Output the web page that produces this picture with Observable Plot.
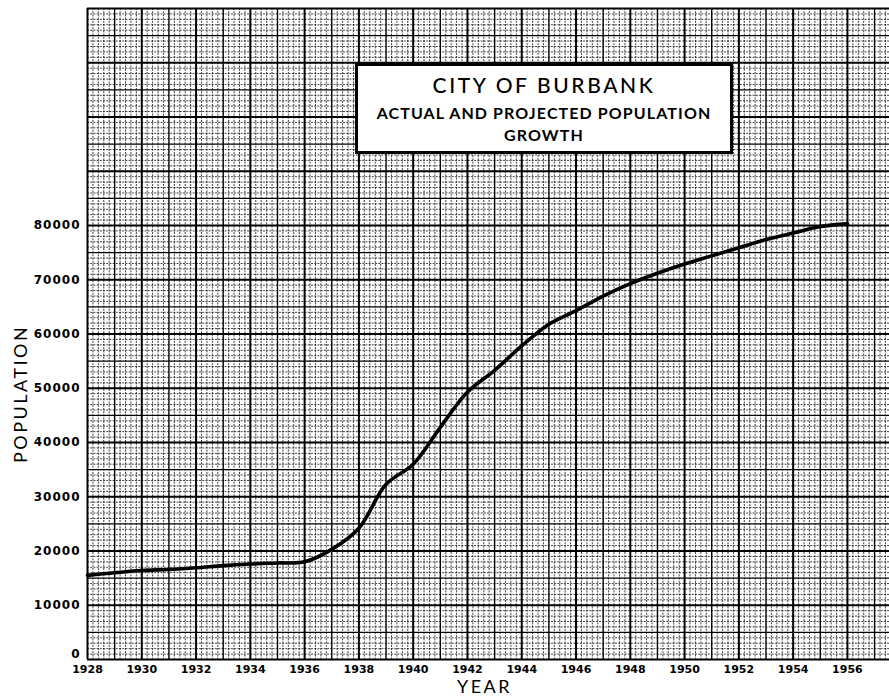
<!DOCTYPE html>
<html>
<head>
<meta charset="utf-8">
<script src="https://cdn.jsdelivr.net/npm/d3@7"></script>
<script src="https://cdn.jsdelivr.net/npm/@observablehq/plot@0.6"></script>
<style>
  html, body { margin: 0; padding: 0; background: #fff; }
  #wrap { position: relative; width: 889px; height: 699px; overflow: hidden; }
  #box {
    position: absolute; left: 355px; top: 63px; width: 372px; height: 85px;
    border: 3px solid #000; background: #fff; font-family: Lato, "DejaVu Sans", sans-serif;
    color: #000; text-align: center;
  }
  #box .l1 { position: absolute; left: 0; right: 0; top: 6px; font-size: 21px; letter-spacing: 2.6px; font-weight: 500; }
  #box .l2 { position: absolute; left: 0; right: 0; top: 37px; font-size: 16px; font-weight: 700; letter-spacing: 1.1px; }
  #box .l3 { position: absolute; left: 0; right: 0; top: 59px; font-size: 16px; font-weight: 700; letter-spacing: 1.1px; }
</style>
</head>
<body>
<div id="wrap">
  <div id="chart"></div>
  <div id="box">
    <div class="l1">CITY OF BURBANK</div>
    <div class="l2">ACTUAL AND PROJECTED POPULATION</div>
    <div class="l3">GROWTH</div>
  </div>
</div>
<script>
// ---- data ----
const years = [1928, 1929, 1930, 1931, 1932, 1933, 1934, 1935, 1936, 1937, 1938, 1939, 1940, 1941, 1942,
               1943, 1944, 1945, 1946, 1947, 1948, 1949, 1950, 1951, 1952, 1953, 1954, 1955, 1956];
const population = [15500, 16000, 16400, 16600, 16900, 17300, 17600, 17800, 18000, 20300, 24200, 32300, 36000, 42800, 49300,
                    53300, 57800, 61800, 64300, 67000, 69300, 71200, 72900, 74400, 75900, 77400, 78600, 79800, 80300];
const xTickLabels = [1928, 1930, 1932, 1934, 1936, 1938, 1940, 1942, 1944, 1946, 1948, 1950, 1952, 1954, 1956];
const yTickLabels = [10000, 20000, 30000, 40000, 50000, 60000, 70000, 80000];
const yZeroLabel = [0];
const xTitle = "YEAR";
const yTitle = "POPULATION";

const data = years.map((year, i) => ({year, pop: population[i]}));

// graph-paper grid positions
const fineX = d3.range(0, 148).filter(i => i % 5 !== 0).map(i => 1928 + i / 5);
const medX = d3.range(1929, 1958, 2);
const heavyX = d3.range(1928, 1958, 2);
const fineY = d3.range(0, 121).filter(i => i % 5 !== 0).map(i => i * 1000);
const medY = d3.range(5000, 120000, 10000);
const heavyY = d3.range(0, 120001, 10000);

const plot = Plot.plot({
  width: 889,
  height: 699,
  marginLeft: 87,
  marginRight: 0,
  marginTop: 8,
  marginBottom: 40,
  style: {fontFamily: "'DejaVu Sans', sans-serif", background: "#fff", color: "#000"},
  x: {domain: [1928, 1957.55]},
  y: {domain: [0, 120000]},
  marks: [
    Plot.ruleX(fineX, {stroke: "#000", strokeWidth: 1, strokeOpacity: 0.75, strokeDasharray: "2,1.2"}),
    Plot.ruleY(fineY, {stroke: "#000", strokeWidth: 1, strokeOpacity: 0.75, strokeDasharray: "2,1.2"}),
    Plot.ruleX(medX, {stroke: "#000", strokeWidth: 1.4}),
    Plot.ruleY(medY, {stroke: "#000", strokeWidth: 1.4}),
    Plot.ruleX(heavyX, {stroke: "#000", strokeWidth: 2}),
    Plot.ruleY(heavyY, {stroke: "#000", strokeWidth: 2}),
    Plot.line(data, {x: "year", y: "pop", stroke: "#000", strokeWidth: 3.6, curve: "catmull-rom"}),
    Plot.axisX({ticks: xTickLabels, tickSize: 0, tickPadding: 6, tickFormat: d => String(d),
                fontSize: 11, fontWeight: "bold", label: null}),
    Plot.axisY({ticks: yTickLabels, tickSize: 0, tickPadding: 7, tickFormat: d => String(d),
                fontSize: 12, fontWeight: "bold", label: null}),
    Plot.axisY({ticks: yZeroLabel, tickSize: 0, tickPadding: 7, tickFormat: d => String(d), dy: -5,
                fontSize: 12, fontWeight: "bold", label: null}),
    Plot.text([xTitle], {frameAnchor: "bottom", text: d => d, dx: -4, dy: 28, fontSize: 18,
                         fontFamily: "Lato, sans-serif", lineAnchor: "middle"}),
    Plot.text([yTitle], {frameAnchor: "left", text: d => d, rotate: -90, dx: -66, dy: 129, fontSize: 18,
                         fontFamily: "Lato, sans-serif", lineAnchor: "middle"})
  ]
});
document.getElementById("chart").appendChild(plot);
d3.select(plot).selectAll('g[aria-label="y-axis tick label"] text').style("letter-spacing", "1px");
d3.select(plot).selectAll('text').filter(function() { return this.textContent === xTitle; }).style("letter-spacing", "2.5px");
d3.select(plot).selectAll('text').filter(function() { return this.textContent === yTitle; }).style("letter-spacing", "2.5px");
</script>
</body>
</html>
